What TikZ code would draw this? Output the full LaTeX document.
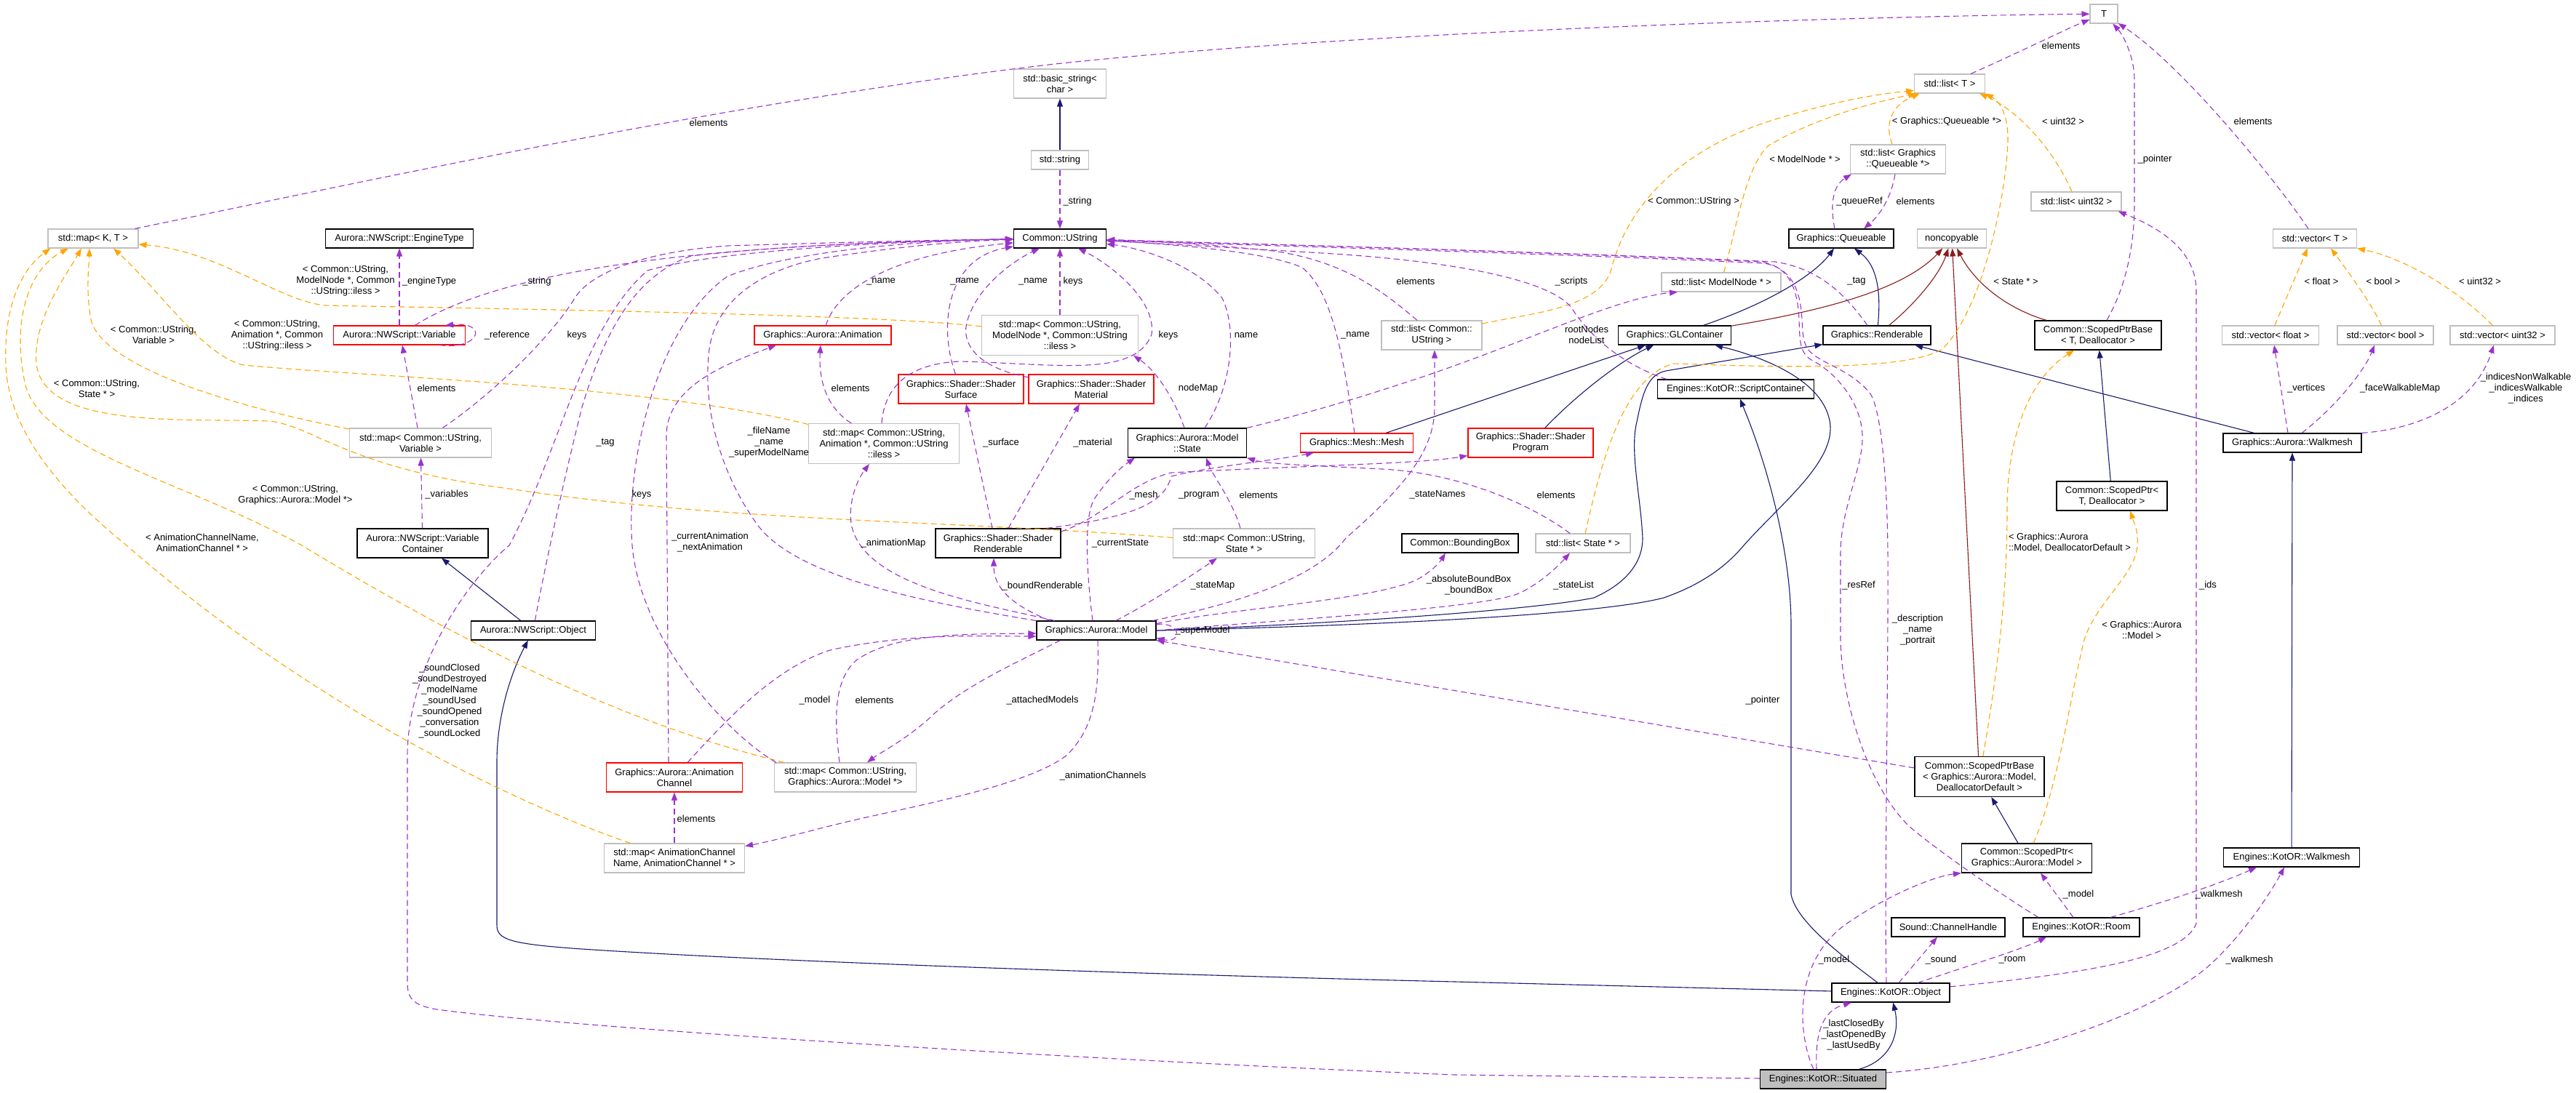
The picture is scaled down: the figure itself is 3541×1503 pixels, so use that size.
\documentclass[tikz,border=0pt]{standalone}
\usepackage{fontspec}
\setmainfont{Liberation Sans}
\usetikzlibrary{arrows.meta}
\definecolor{usecol}{HTML}{9A32CD}
\definecolor{tmplcol}{HTML}{FFA500}
\definecolor{pubcol}{HTML}{191970}
\definecolor{privcol}{HTML}{8B1A1A}
\definecolor{extgray}{HTML}{BFBFBF}
\begin{document}
\begin{tikzpicture}[x=1pt,y=-1pt,
  box/.style={rectangle,fill=white,line width=1.1pt,align=center,inner sep=2pt,font=\fontsize{13}{15}\selectfont},
  cls/.style={box,draw=black},
  ext/.style={box,draw=extgray},
  incomplete/.style={box,draw=red},
  one/.style={minimum height=26pt},
  two/.style={minimum height=40pt},
  three/.style={minimum height=55pt},
  lbl/.style={align=center,inner sep=0pt,font=\fontsize{13}{15}\selectfont},
  headtip/.style={-{Triangle[length=11pt,width=8pt]}},
  usage/.style={draw=usecol,line width=1.1pt,dash pattern=on 8pt off 5pt,headtip},
  inst/.style={draw=tmplcol,line width=1.1pt,dash pattern=on 8pt off 5pt,headtip},
  pub/.style={draw=pubcol,line width=1.1pt,headtip},
  priv/.style={draw=privcol,line width=1.1pt,headtip}]
	\useasboundingbox (0,0) rectangle (3541,1503);
	\node[ext,one,minimum width=124pt] (mapKT) at (128,328) {std::map< K, T >};
	\node[cls,one,minimum width=203pt] (engineType) at (549,328) {Aurora::NWScript::EngineType};
	\node[incomplete,one,minimum width=181pt] (variable) at (549,461) {Aurora::NWScript::Variable};
	\node[ext,two,minimum width=195pt] (mapVar) at (578,609) {std::map< Common::UString,\\Variable >};
	\node[cls,two,minimum width=180pt] (varContainer) at (581,747) {Aurora::NWScript::Variable\\Container};
	\node[cls,one,minimum width=171pt] (nwObject) at (733,867) {Aurora::NWScript::Object};
	\node[incomplete,two,minimum width=187pt] (animChannel) at (927,1069) {Graphics::Aurora::Animation\\Channel};
	\node[ext,two,minimum width=195pt] (mapModel) at (1162,1069) {std::map< Common::UString,\\Graphics::Aurora::Model *>};
	\node[ext,two,minimum width=193pt] (mapChannel) at (927,1180) {std::map< AnimationChannel\\Name, AnimationChannel * >};
	\node[incomplete,one,minimum width=188pt] (animation) at (1131,461) {Graphics::Aurora::Animation};
	\node[ext,three,minimum width=207pt] (mapAnim) at (1215,610) {std::map< Common::UString,\\Animation *, Common::UString\\::iless >};
	\node[incomplete,two,minimum width=172pt] (surface) at (1321,535) {Graphics::Shader::Shader\\Surface};
	\node[ext,two,minimum width=127pt] (basicString) at (1457,115) {std::basic\_string<\\char >};
	\node[ext,one,minimum width=79pt] (stdString) at (1457,220) {std::string};
	\node[cls,one,minimum width=127pt] (ustring) at (1457,328) {Common::UString};
	\node[ext,three,minimum width=215pt] (mapModelNode) at (1457,461) {std::map< Common::UString,\\ModelNode *, Common::UString\\::iless >};
	\node[incomplete,two,minimum width=172pt] (material) at (1500,535) {Graphics::Shader::Shader\\Material};
	\node[cls,two,minimum width=163pt] (state) at (1632,609) {Graphics::Aurora::Model\\::State};
	\node[incomplete,one,minimum width=155pt] (mesh) at (1865,609) {Graphics::Mesh::Mesh};
	\node[ext,two,minimum width=138pt] (listUString) at (1968,461) {std::list< Common::\\UString >};
	\node[incomplete,two,minimum width=172pt] (program) at (2104,609) {Graphics::Shader::Shader\\Program};
	\node[cls,two,minimum width=172pt] (renderable) at (1372,747) {Graphics::Shader::Shader\\Renderable};
	\node[ext,two,minimum width=195pt] (mapState) at (1710,747) {std::map< Common::UString,\\State * >};
	\node[cls,one,minimum width=160pt] (boundingBox) at (2007,747) {Common::BoundingBox};
	\node[ext,one,minimum width=130pt] (listState) at (2176,747) {std::list< State * >};
	\node[cls,one,minimum width=164pt] (model) at (1507,867) {Graphics::Aurora::Model};
	\node[ext,one,minimum width=97pt] (listT) at (2680,115) {std::list< T >};
	\node[ext,two,minimum width=131pt] (listQueueable) at (2609,219) {std::list< Graphics\\::Queueable *>};
	\node[cls,one,minimum width=144pt] (queueable) at (2531,328) {Graphics::Queueable};
	\node[ext,one,minimum width=95pt] (noncopyable) at (2683,328) {noncopyable};
	\node[ext,one,minimum width=164pt] (listModelNode) at (2366,388) {std::list< ModelNode * >};
	\node[cls,one,minimum width=155pt] (glContainer) at (2302,461) {Graphics::GLContainer};
	\node[cls,one,minimum width=148pt] (gfxRenderable) at (2580,461) {Graphics::Renderable};
	\node[cls,one,minimum width=215pt] (scriptContainer) at (2386,535) {Engines::KotOR::ScriptContainer};
	\node[ext,one,minimum width=38pt] (T) at (2892,19) {T};
	\node[ext,one,minimum width=124pt] (listUint) at (2854,277) {std::list< uint32 >};
	\node[ext,one,minimum width=115pt] (vectorT) at (3182,328) {std::vector< T >};
	\node[cls,two,minimum width=174pt] (scopedBaseT) at (2884,461) {Common::ScopedPtrBase\\< T, Deallocator >};
	\node[ext,one,minimum width=133pt] (vecFloat) at (3121,461) {std::vector< float >};
	\node[ext,one,minimum width=132pt] (vecBool) at (3279,461) {std::vector< bool >};
	\node[ext,one,minimum width=144pt] (vecUint) at (3440,461) {std::vector< uint32 >};
	\node[cls,one,minimum width=190pt] (gfxWalkmesh) at (3151,609) {Graphics::Aurora::Walkmesh};
	\node[cls,two,minimum width=152pt] (scopedT) at (2903,682) {Common::ScopedPtr<\\T, Deallocator >};
	\node[cls,three,minimum width=178pt] (scopedBaseModel) at (2721,1068) {Common::ScopedPtrBase\\< Graphics::Aurora::Model,\\DeallocatorDefault >};
	\node[cls,two,minimum width=179pt] (scopedModel) at (2786,1180) {Common::ScopedPtr<\\Graphics::Aurora::Model >};
	\node[cls,one,minimum width=156pt] (channel) at (2678,1275) {Sound::ChannelHandle};
	\node[cls,one,minimum width=160pt] (room) at (2861,1275) {Engines::KotOR::Room};
	\node[cls,one,minimum width=187pt] (kotorWalkmesh) at (3150,1179) {Engines::KotOR::Walkmesh};
	\node[cls,one,minimum width=162pt] (kotorObject) at (2599,1365) {Engines::KotOR::Object};
	\node[cls,one,minimum width=173pt,fill=extgray] (situated) at (2506,1484) {Engines::KotOR::Situated};

	\draw[pub] (stdString) -- (basicString);
	\draw[pub] (glContainer) .. controls (2450,410) and (2500,370) .. (queueable);
	\draw[pub] (gfxRenderable) .. controls (2586,400) and (2580,365) .. (queueable);
	\draw[pub] (mesh) -- (glContainer);
	\draw[pub] (program) .. controls (2170,540) and (2230,495) .. (glContainer);
	\draw[pub] (model.east) .. controls (1900,860) and (2200,845) .. (2287,822) .. controls (2350,800) and (2380,770) .. (2397,750) .. controls (2450,690) and (2530,630) .. (2514,574) .. controls (2500,520) and (2420,490) .. (glContainer);
	\draw[pub] (model.east) .. controls (1900,855) and (2130,835) .. (2191,822) .. controls (2240,800) and (2258,770) .. (2258,740) .. controls (2255,680) and (2240,620) .. (2250,580) .. controls (2258,540) and (2265,515) .. (2290,510) -- (gfxRenderable);
	\draw[pub] (gfxWalkmesh) -- (gfxRenderable);
	\draw[pub] (kotorObject) .. controls (2540,1320) and (2470,1270) .. (2462,1230) -- (2462,860) .. controls (2462,760) and (2430,640) .. (scriptContainer);
	\draw[pub] (kotorObject) -- (2000,1350) .. controls (1700,1343) and (1100,1325) .. (800,1305) .. controls (700,1298) and (683,1292) .. (683,1272) -- (683,1048) .. controls (683,980) and (705,920) .. (nwObject);
	\draw[pub] (nwObject) -- (varContainer);
	\draw[pub] (scopedT) -- (scopedBaseT);
	\draw[pub] (scopedModel) -- (scopedBaseModel);
	\draw[pub] (kotorWalkmesh) -- (gfxWalkmesh);
	\draw[pub] (situated) .. controls (2600,1458) and (2612,1420) .. (kotorObject);

	\draw[priv] (glContainer) .. controls (2520,425) and (2620,395) .. (noncopyable);
	\draw[priv] (gfxRenderable) .. controls (2630,420) and (2665,380) .. (noncopyable);
	\draw[priv] (scopedBaseModel) -- (noncopyable);
	\draw[priv] (scopedBaseT) .. controls (2760,425) and (2715,390) .. (noncopyable);

	\draw[inst] (mapVar) .. controls (300,555) and (140,500) .. (125,440) .. controls (118,400) and (122,370) .. ([xshift=-5]mapKT.south) node[lbl] at (211,460) {< Common::UString,\\Variable >};
	\draw[inst] (mapAnim) .. controls (900,530) and (500,518) .. (335,502) .. controls (280,490) and (220,400) .. ([xshift=28]mapKT.south) node[lbl] at (381,461) {< Common::UString,\\Animation *, Common\\::UString::iless >};
	\draw[inst] (mapModelNode) .. controls (1200,432) and (700,425) .. (446,420) .. controls (380,412) and (300,345) .. ([yshift=-8]mapKT.east) node[lbl] at (475,386) {< Common::UString,\\ModelNode *, Common\\::UString::iless >};
	\draw[inst] (mapState) .. controls (1300,715) and (1000,718) .. (700,672) .. controls (480,645) and (430,585) .. (370,579) .. controls (250,575) and (60,590) .. (50,500) .. controls (45,440) and (90,380) .. ([xshift=-16]mapKT.south) node[lbl] at (133,534) {< Common::UString,\\State * >};
	\draw[inst] (mapModel) .. controls (900,1005) and (700,923) .. (415,750) .. controls (250,660) and (60,620) .. (35,530) .. controls (15,440) and (40,370) .. ([xshift=-34]mapKT.south) node[lbl] at (406,681) {< Common::UString,\\Graphics::Aurora::Model *>};
	\draw[inst] (mapChannel) .. controls (750,1120) and (450,990) .. (174,750) .. controls (100,690) and (10,600) .. (8,500) .. controls (5,420) and (30,370) .. ([xshift=4]mapKT.south west) node[lbl] at (278,746) {< AnimationChannelName,\\AnimationChannel * >};
	\draw[inst] (listUString) .. controls (2100,431) and (2200,425) .. (2215,370) .. controls (2235,290) and (2300,210) .. (2431,167) .. controls (2500,145) and (2570,130) .. ([yshift=4]listT.south west) node[lbl] at (2328,277) {< Common::UString >};
	\draw[inst] (listModelNode) .. controls (2390,300) and (2400,230) .. (2431,200) .. controls (2500,160) and (2580,140) .. ([xshift=3]listT.south west) node[lbl] at (2481,219) {< ModelNode * >};
	\draw[inst] (listQueueable) .. controls (2590,170) and (2600,145) .. ([xshift=8]listT.south west) node[lbl] at (2676,167) {< Graphics::Queueable *>};
	\draw[inst] (listUint) .. controls (2820,200) and (2770,150) .. ([xshift=-8]listT.south east) node[lbl] at (2836,167) {< uint32 >};
	\draw[inst] (listState) .. controls (2200,640) and (2230,520) .. (2300,500) .. controls (2450,505) and (2620,510) .. (2670,480) .. controls (2730,420) and (2760,250) .. (2760,190) .. controls (2760,160) and (2750,140) .. (listT.south east) node[lbl] at (2771,387) {< State * >};
	\draw[inst] (vecFloat) -- ([xshift=-10]vectorT.south) node[lbl] at (3191,387) {< float >};
	\draw[inst] (vecBool) .. controls (3262,420) and (3225,370) .. ([xshift=22]vectorT.south) node[lbl] at (3276,387) {< bool >};
	\draw[inst] (vecUint) .. controls (3371,392) and (3300,354) .. (vectorT.south east) node[lbl] at (3409,387) {< uint32 >};
	\draw[inst] (scopedBaseModel) .. controls (2750,900) and (2759,800) .. (2759,700) .. controls (2759,600) and (2790,520) .. (scopedBaseT) node[lbl,align=left] at (2845,746) {< Graphics::Aurora\\::Model, DeallocatorDefault >};
	\draw[inst] (scopedModel) .. controls (2830,1080) and (2845,960) .. (2865,880) .. controls (2880,830) and (2936,790) .. (2938,750) .. controls (2940,730) and (2932,715) .. ([xshift=25]scopedT.south) node[lbl] at (2944,866) {< Graphics::Aurora\\::Model >};

	\draw[usage] ([xshift=-5]mapKT.north east) .. controls (500,250) and (1000,140) .. (1450,88) .. controls (1900,40) and (2600,22) .. (T) node[lbl] at (974,169) {elements};
	\draw[usage] ([xshift=-20]listT.north east) .. controls (2780,70) and (2840,40) .. (T) node[lbl] at (2833,63) {elements};
	\draw[usage] (scopedBaseT) .. controls (2925,390) and (2934,330) .. (2934,280) -- (2934,110) .. controls (2934,80) and (2920,50) .. (T) node[lbl] at (2962,219) {\_pointer};
	\draw[usage] (vectorT) .. controls (3130,250) and (3000,90) .. (T) node[lbl] at (3097,167) {elements};
	\draw[usage] (stdString) -- (ustring) node[lbl] at (1481,277) {\_string};
	\draw[usage] (variable) -- (engineType) node[lbl] at (590,387) {\_engineType};
	\draw[usage] ([xshift=-36]variable.south east) .. controls (660,482) and (672,442) .. ([xshift=-28]variable.north east) node[lbl] at (697,461) {\_reference};
	\draw[usage] ([xshift=-4]mapVar.north) -- ([xshift=4]variable.south) node[lbl] at (600,534) {elements};
	\draw[usage] (varContainer) -- (mapVar) node[lbl] at (614,680) {\_variables};
	\draw[usage] (variable) .. controls (700,365) and (1000,335) .. (ustring) node[lbl] at (738,387) {\_string};
	\draw[usage] (mapVar) .. controls (680,540) and (760,460) .. (790,410) .. controls (815,370) and (900,345) .. (1000,338) .. controls (1200,332) and (1300,330) .. (ustring) node[lbl] at (793,461) {keys};
	\draw[usage] (nwObject) .. controls (745,800) and (770,680) .. (800,560) .. controls (830,460) and (870,380) .. (950,352) .. controls (1100,335) and (1300,330) .. (ustring) node[lbl] at (832,609) {\_tag};
	\draw[usage] ([xshift=3]mapModel.north west) .. controls (1000,1010) and (880,880) .. (869,750) .. controls (860,640) and (900,450) .. (1000,380) .. controls (1100,340) and (1300,330) .. (ustring) node[lbl] at (882,680) {keys};
	\draw[usage] ([xshift=-8]animChannel.north) -- (916,600) .. controls (916,530) and (1000,500) .. ([xshift=-64]animation.south) node[lbl] at (976,746) {\_currentAnimation\\\_nextAnimation};
	\draw[usage] (model) .. controls (1250,825) and (1090,790) .. (1040,720) .. controls (990,650) and (965,560) .. (975,480) .. controls (985,410) and (1050,370) .. (1130,355) .. controls (1250,337) and (1330,331) .. (ustring) node[lbl] at (1057,608) {\_fileName\\\_name\\\_superModelName};
	\draw[usage] (animation) .. controls (1150,400) and (1220,350) .. (ustring) node[lbl] at (1211,387) {\_name};
	\draw[usage] (mapAnim) .. controls (1135,560) and (1125,520) .. ([xshift=-3]animation.south) node[lbl] at (1169,534) {elements};
	\draw[usage] (model) .. controls (1350,830) and (1185,805) .. (1170,720) .. controls (1166,690) and (1178,660) .. ([xshift=-20]mapAnim.south) node[lbl] at (1228,747) {\_animationMap};
	\draw[usage] (surface) .. controls (1290,450) and (1300,355) .. (ustring) node[lbl] at (1326,387) {\_name};
	\draw[usage] (material) .. controls (1340,505) and (1320,470) .. (1330,440) .. controls (1345,390) and (1400,355) .. ([xshift=-28]ustring.south) node[lbl] at (1420,387) {\_name};
	\draw[usage] ([xshift=-3]mapAnim.north) .. controls (1215,540) and (1240,500) .. (1320,497) .. controls (1450,500) and (1560,520) .. (1583,460) .. controls (1590,410) and (1520,360) .. ([xshift=25]ustring.south) node[lbl] at (1606,461) {keys};
	\draw[usage] (mapModelNode) -- (ustring) node[lbl] at (1475,387) {keys};
	\draw[usage] ([xshift=-8]renderable.north) -- ([xshift=7]surface.south) node[lbl] at (1376,609) {\_surface};
	\draw[usage] ([xshift=14]renderable.north) -- ([xshift=-16]material.south) node[lbl] at (1502,609) {\_material};
	\draw[usage] ([xshift=19]model.north west) .. controls (1385,830) and (1366,805) .. ([xshift=-6]renderable.south) node[lbl] at (1433,806) {\_boundRenderable};
	\draw[usage] ([xshift=-20]renderable.north east) .. controls (1550,712) and (1600,695) .. (1610,655) .. controls (1660,642) and (1760,632) .. ([xshift=19]mesh.south west) node[lbl] at (1572,681) {\_mesh};
	\draw[usage] ([yshift=16]renderable.east) .. controls (1520,710) and (1550,665) .. (1610,650) .. controls (1800,640) and (1950,638) .. ([yshift=3]program.south west) node[lbl] at (1648,681) {\_program};
	\draw[usage] ([xshift=-5]model.north) .. controls (1495,800) and (1488,710) .. (1505,685) .. controls (1525,655) and (1545,640) .. ([xshift=-72]state.south) node[lbl] at (1540,747) {\_currentState};
	\draw[usage] ([xshift=-5]mapState.north) .. controls (1695,690) and (1665,650) .. ([xshift=26]state.south) node[lbl] at (1730,681) {elements};
	\draw[usage] ([xshift=-4]state.north) .. controls (1615,550) and (1590,510) .. ([xshift=-7]mapModelNode.south east) node[lbl] at (1647,534) {nodeMap};
	\draw[usage] ([xshift=24]state.north) .. controls (1695,530) and (1700,450) .. (1680,410) .. controls (1640,360) and (1560,340) .. (ustring) node[lbl] at (1713,461) {name};
	\draw[usage] ([xshift=-3]mesh.north) .. controls (1845,480) and (1830,400) .. (1790,368) .. controls (1740,345) and (1600,335) .. (ustring) node[lbl] at (1863,461) {\_name};
	\draw[usage] ([xshift=-20]listUString.north) .. controls (1900,400) and (1850,360) .. (1750,345) .. controls (1650,335) and (1580,331) .. (ustring) node[lbl] at (1946,387) {elements};
	\draw[usage] ([xshift=-5]model.north east) .. controls (1750,820) and (1820,780) .. (1850,740) .. controls (1930,670) and (1972,620) .. (1972,560) -- ([xshift=4]listUString.south) node[lbl] at (1976,680) {\_stateNames};
	\draw[usage] (model) .. controls (1580,830) and (1640,790) .. ([xshift=-37]mapState.south) node[lbl] at (1667,805) {\_stateMap};
	\draw[usage] ([yshift=-4]model.north east) .. controls (1700,836) and (1880,826) .. (1946,798) .. controls (1965,788) and (1978,775) .. ([xshift=-20]boundingBox.south) node[lbl] at (2019,805) {\_absoluteBoundBox\\\_boundBox};
	\draw[usage] (model.east) .. controls (1800,850) and (2050,835) .. (2090,815) .. controls (2120,800) and (2140,780) .. ([xshift=-18]listState.south) node[lbl] at (2163,805) {\_stateList};
	\draw[usage] ([yshift=-5]model.north east) .. controls (1625,855) and (1625,885) .. ([yshift=3]model.south east) node[lbl] at (1653,867) {\_superModel};
	\draw[usage] ([xshift=33]model.south west) .. controls (1400,910) and (1320,945) .. (1275,990) .. controls (1240,1020) and (1210,1035) .. ([xshift=30]mapModel.north) node[lbl] at (1433,963) {\_attachedModels};
	\draw[usage] ([xshift=-8]mapModel.north) .. controls (1150,1010) and (1140,940) .. (1177,908) .. controls (1230,870) and (1330,872) .. ([yshift=-4]model.west) node[lbl] at (1202,963) {elements};
	\draw[usage] ([xshift=18]animChannel.north) .. controls (990,1000) and (1060,920) .. (1141,894) .. controls (1250,870) and (1350,875) .. ([yshift=-8]model.west) node[lbl] at (1120,963) {\_model};
	\draw[usage] ([xshift=2]model.south) .. controls (1511,950) and (1505,1000) .. (1467,1038) .. controls (1420,1075) and (1300,1100) .. (1186,1125) .. controls (1120,1140) and (1070,1155) .. ([yshift=-4]mapChannel.north east) node[lbl] at (1516,1067) {\_animationChannels};
	\draw[usage] (mapChannel) -- (animChannel) node[lbl] at (957,1126) {elements};
	\draw[usage] ([yshift=12]scopedBaseModel.west) -- (model.south east) node[lbl] at (2423,963) {\_pointer};
	\draw[usage] (kotorObject) .. controls (2850,1340) and (3000,1320) .. (3019,1270) -- (3019,400) .. controls (3019,340) and (2960,310) .. ([xshift=-5]listUint.south east) node[lbl] at (3035,805) {\_ids};
	\draw[usage] ([xshift=-6]kotorObject.north) .. controls (2590,1250) and (2596,900) .. (2595,760) .. controls (2594,650) and (2585,560) .. (2570,540) .. controls (2540,505) and (2500,500) .. (2485,480) .. controls (2478,470) and (2478,455) .. (2477,440) .. controls (2475,395) and (2460,368) .. (2425,362) .. controls (2100,347) and (1700,337) .. (ustring) node[lbl] at (2636,866) {\_description\\\_name\\\_portrait};
	\draw[usage] ([xshift=-59]room.north) .. controls (2750,1230) and (2650,1160) .. (2622,1134) .. controls (2560,1070) and (2531,950) .. (2530,880) -- (2530,760) .. controls (2530,700) and (2562,640) .. (2560,598) .. controls (2558,550) and (2520,510) .. (2490,495) .. controls (2474,485) and (2474,470) .. (2473,440) .. controls (2471,390) and (2455,365) .. (2420,360) .. controls (2100,345) and (1700,335) .. (ustring) node[lbl] at (2555,805) {\_resRef};
	\draw[usage] ([xshift=11]kotorObject.north) -- ([xshift=-15]channel.south) node[lbl] at (2668,1320) {\_sound};
	\draw[usage] ([xshift=37]kotorObject.north) .. controls (2700,1330) and (2780,1305) .. ([xshift=-48]room.south) node[lbl] at (2766,1320) {\_room};
	\draw[usage] ([xshift=-11]room.north) -- ([xshift=19]scopedModel.south) node[lbl] at (2857,1230) {\_model};
	\draw[usage] ([xshift=40]room.north) .. controls (2960,1245) and (3040,1220) .. ([xshift=-48]kotorWalkmesh.south) node[lbl] at (3050,1230) {\_walkmesh};
	\draw[usage] ([yshift=9]situated.east) .. controls (2750,1465) and (2950,1400) .. (3033,1331) .. controls (3080,1290) and (3120,1230) .. ([xshift=-10]kotorWalkmesh.south) node[lbl] at (3092,1320) {\_walkmesh};
	\draw[usage] ([xshift=-9]situated.north) .. controls (2495,1420) and (2505,1390) .. ([xshift=-54]kotorObject.south) node[lbl] at (2548,1423) {\_lastClosedBy\\\_lastOpenedBy\\\_lastUsedBy};
	\draw[usage] ([xshift=-13]situated.north) .. controls (2470,1420) and (2465,1320) .. (2540,1269) .. controls (2600,1228) and (2660,1205) .. (scopedModel.south west) node[lbl] at (2521,1320) {\_model};
	\draw[usage] (situated) -- (2000,1478) .. controls (1500,1458) and (800,1415) .. (600,1388) .. controls (566,1382) and (560,1372) .. (560,1350) -- (560,1040) .. controls (560,920) and (640,800) .. (700,750) .. controls (770,620) and (800,450) .. (890,372) .. controls (1000,340) and (1300,330) .. (ustring) node[lbl] at (618,964) {\_soundClosed\\\_soundDestroyed\\\_modelName\\\_soundUsed\\\_soundOpened\\\_conversation\\\_soundLocked};
	\draw[usage] ([xshift=13]scriptContainer.north west) .. controls (2240,505) and (2190,470) .. (2160,423) .. controls (2130,385) and (2000,358) .. (1800,347) .. controls (1650,338) and (1560,333) .. (ustring) node[lbl] at (2160,387) {\_scripts};
	\draw[usage] ([xshift=-13]gfxRenderable.north) .. controls (2540,410) and (2505,370) .. (2440,360) .. controls (2100,345) and (1700,335) .. (ustring) node[lbl] at (2552,387) {\_tag};
	\draw[usage] (state.north east) .. controls (1790,570) and (1860,550) .. (1950,520) .. controls (2100,470) and (2220,410) .. ([xshift=-60]listModelNode.south) node[lbl] at (2181,460) {rootNodes\\nodeList};
	\draw[usage] ([xshift=-18]listState.north) .. controls (2100,690) and (2000,650) .. (1900,645) .. controls (1800,640) and (1740,638) .. (state.south east) node[lbl] at (2139,681) {elements};
	\draw[usage] ([xshift=-9]queueable.north) .. controls (2515,280) and (2520,255) .. ([xshift=-64]listQueueable.south) node[lbl] at (2556,277) {\_queueRef};
	\draw[usage] ([xshift=-4]listQueueable.south) .. controls (2600,270) and (2585,295) .. ([xshift=31]queueable.north) node[lbl] at (2633,277) {elements};
	\draw[usage] ([xshift=-6]gfxWalkmesh.north) -- ([xshift=5]vecFloat.south) node[lbl] at (3170,534) {\_vertices};
	\draw[usage] ([xshift=13]gfxWalkmesh.north) .. controls (3210,560) and (3250,510) .. ([xshift=-15]vecBool.south) node[lbl] at (3299,534) {\_faceWalkableMap};
	\draw[usage] (gfxWalkmesh.north east) .. controls (3320,590) and (3400,560) .. ([xshift=-12]vecUint.south) node[lbl] at (3472,534) {\_indicesNonWalkable\\\_indicesWalkable\\\_indices};
\end{tikzpicture}
\end{document}
